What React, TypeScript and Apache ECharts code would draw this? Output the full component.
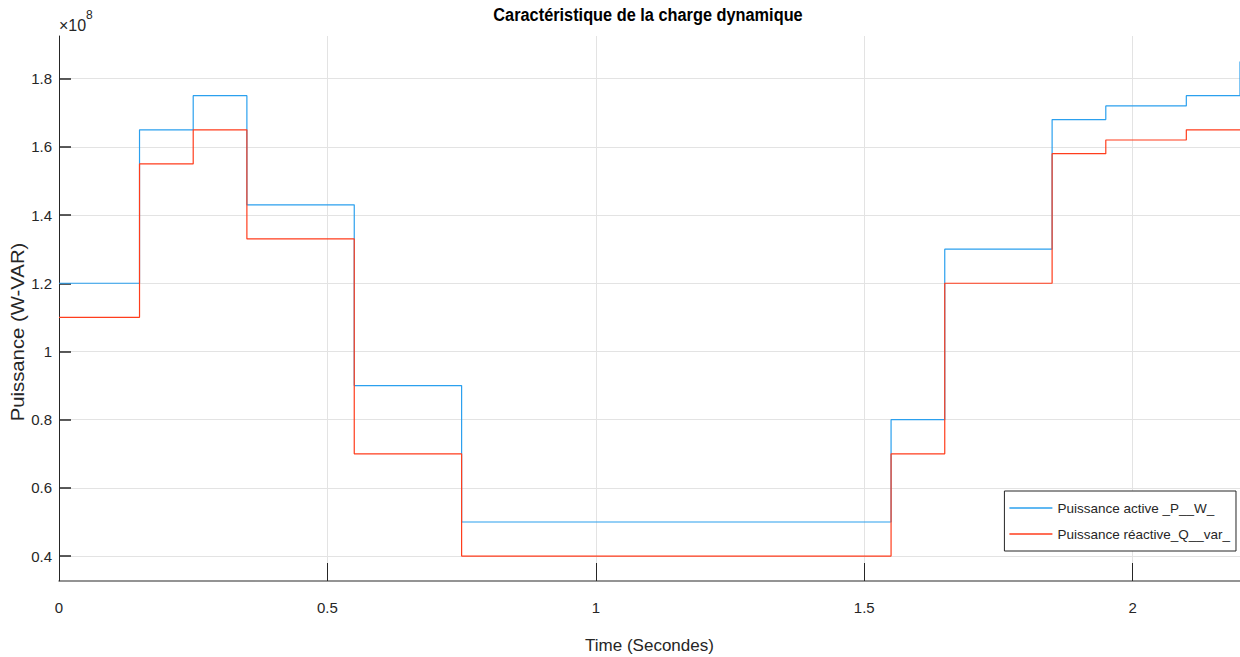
import React, { useEffect, useRef } from "react";
import * as echarts from "echarts";

// Time instants where the load changes (seconds)
const times = [0, 0.15, 0.25, 0.35, 0.55, 0.75, 1.55, 1.65, 1.85, 1.95, 2.1, 2.2];
// Active power P (W), in units of 1e8
const activeP = [1.2, 1.65, 1.75, 1.43, 0.9, 0.5, 0.8, 1.3, 1.68, 1.72, 1.75, 1.85];
// Reactive power Q (var), in units of 1e8
const reactiveQ = [1.1, 1.55, 1.65, 1.33, 0.7, 0.4, 0.7, 1.2, 1.58, 1.62, 1.65, 1.65];
const yTicks = [0.4, 0.6, 0.8, 1, 1.2, 1.4, 1.6, 1.8];
const xTicks = [0, 0.5, 1, 1.5, 2];

const SANS = "'Liberation Sans', Arial, Helvetica, sans-serif";

export default function App() {
  const ref = useRef<HTMLDivElement>(null);
  useEffect(() => {
    if (!ref.current) return;
    const chart = echarts.init(ref.current, null, { renderer: "svg" });
    const blue = "#2ba0ee";
    const red = "#ff3d1c";
    chart.setOption({
      animation: false,
      backgroundColor: "#ffffff",
      grid: { left: 59, right: 0, top: 36, bottom: 76, containLabel: false, outerBoundsMode: "none" },
      xAxis: {
        type: "value",
        min: 0,
        max: 2.2,
        interval: 0.5,
        name: "Time (Secondes)",
        nameLocation: "middle",
        nameGap: 56,
        nameTextStyle: { fontFamily: SANS, fontSize: 17, color: "#262626" },
        axisLine: { show: true, onZero: false, lineStyle: { color: "#707070", width: 1.5 } },
        axisTick: { show: true, inside: true, length: 18, lineStyle: { color: "#262626" }, customValues: xTicks },
        axisLabel: {
          customValues: xTicks,
          margin: 19,
          fontFamily: SANS,
          fontSize: 15,
          color: "#262626",
          formatter: (v: number) => String(v),
        },
        splitLine: { show: true, lineStyle: { color: "#e3e3e3", width: 1 } },
      },
      yAxis: {
        type: "value",
        min: 0.327,
        max: 1.925,
        axisLine: { show: true, onZero: false, lineStyle: { color: "#262626", width: 1 } },
        axisTick: { show: true, inside: true, length: 12, lineStyle: { color: "#262626", width: 1.5 }, customValues: yTicks },
        axisLabel: {
          customValues: yTicks,
          margin: 7,
          fontFamily: SANS,
          fontSize: 15,
          color: "#262626",
          formatter: (v: number) => String(Math.round(v * 10) / 10),
        },
        splitLine: { show: true, lineStyle: { color: "#e3e3e3", width: 1 } },
      },
      legend: {
        orient: "vertical",
        right: 4,
        top: 491,
        backgroundColor: "#ffffff",
        borderColor: "#262626",
        borderWidth: 1,
        borderRadius: 0,
        padding: [10, 6, 10, 5],
        itemGap: 12,
        itemWidth: 43,
        itemHeight: 1.5,
        icon: "rect",
        textStyle: { fontFamily: SANS, fontSize: 13.5, color: "#262626" },
        data: ["Puissance active _P__W_", "Puissance réactive_Q__var_"],
      },
      graphic: [
        {
          type: "text",
          x: 648,
          y: 5,
          scaleX: 0.86,
          style: {
            text: "Caractéristique de la charge dynamique",
            fontFamily: SANS,
            fontSize: 19,
            fontWeight: "bold",
            fill: "#000000",
            textAlign: "center",
          },
        },
        {
          type: "text",
          x: 59,
          y: 17,
          style: { text: "×10", fontFamily: SANS, fontSize: 16, fill: "#262626" },
        },
        {
          type: "text",
          x: 86,
          y: 9,
          style: { text: "8", fontFamily: SANS, fontSize: 12, fill: "#262626" },
        },
        {
          type: "text",
          x: 17,
          y: 332,
          rotation: Math.PI / 2,
          scaleX: 1.07,
          style: {
            text: "Puissance (W-VAR)",
            fontFamily: SANS,
            fontSize: 19,
            fill: "#262626",
            textAlign: "center",
            textVerticalAlign: "middle",
          },
        },
      ],
      series: [
        {
          name: "Puissance active _P__W_",
          type: "line",
          step: "end",
          showSymbol: false,
          symbol: "none",
          color: blue,
          lineStyle: { color: blue, width: 1.2 },
          data: times.map((t, i) => [t, activeP[i]]),
          z: 3,
        },
        {
          name: "Puissance réactive_Q__var_",
          type: "line",
          step: "end",
          showSymbol: false,
          symbol: "none",
          color: red,
          lineStyle: { color: red, width: 1.2 },
          data: times.map((t, i) => [t, reactiveQ[i]]),
          z: 4,
        },
      ],
    });
    return () => chart.dispose();
  }, []);
  return (
    <div
      ref={ref}
      style={{ position: "fixed", left: 0, top: 0, width: 1240, height: 657, background: "#fff" }}
    />
  );
}
